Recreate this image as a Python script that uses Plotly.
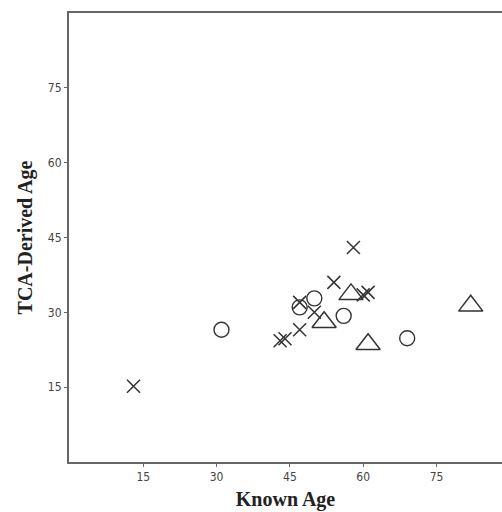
import plotly.graph_objects as go

# Data
circle_known = [31, 47, 50, 56, 69]
circle_tca = [26.5, 31.0, 32.8, 29.3, 24.8]

x_known = [13, 43, 44, 47, 47, 50, 54, 58, 60, 61]
x_tca = [15.2, 24.3, 24.7, 26.5, 32.0, 30.0, 36.0, 43.0, 33.5, 34.0]

tri_known = [52, 57.5, 61, 82]
tri_tca = [28.0, 33.6, 23.6, 31.3]

tick_vals = [15, 30, 45, 60, 75]
tick_text = ["15", "30", "45", "60", "75"]

mcol = "#333333"
fig = go.Figure()
fig.add_trace(go.Scatter(x=circle_known, y=circle_tca, mode="markers",
                         marker=dict(symbol="circle-open", size=15, color=mcol,
                                     line=dict(width=1.4, color=mcol))))
fig.add_trace(go.Scatter(x=x_known, y=x_tca, mode="markers",
                         marker=dict(symbol="x-thin-open", size=13, color=mcol,
                                     line=dict(width=1.5, color=mcol))))
fig.add_trace(go.Scatter(x=tri_known, y=tri_tca, mode="markers",
                         marker=dict(symbol="triangle-up-open", size=21, color=mcol,
                                     line=dict(width=1.5, color=mcol))))

axis_line = "#666666"
tfont = dict(family="DejaVu Sans Condensed, DejaVu Sans", size=12, color="#444444")
fig.update_layout(
    width=502, height=512,
    margin=dict(l=69, r=0, t=13, b=50),
    paper_bgcolor="white", plot_bgcolor="white",
    showlegend=False,
    xaxis=dict(range=[-0.2, 88.4], tickvals=tick_vals, ticktext=tick_text,
               showline=True, linecolor=axis_line, linewidth=2, mirror=True,
               showgrid=False, zeroline=False,
               ticks="outside", ticklen=3, tickcolor=axis_line, tickwidth=1,
               tickfont=tfont,
               title=dict(text="<b>Known Age</b>", standoff=9,
                          font=dict(family="Liberation Serif", size=20, color="#222222"))),
    yaxis=dict(range=[0, 90], tickvals=tick_vals, ticktext=tick_text,
               showline=True, linecolor=axis_line, linewidth=2, mirror=False,
               showgrid=False, zeroline=False,
               ticks="outside", ticklen=3, tickcolor=axis_line, tickwidth=1,
               tickfont=tfont,
               title=dict(text="<b>TCA-Derived Age</b>", standoff=10,
                          font=dict(family="Liberation Serif", size=20, color="#222222"))),
)

fig.write_html("out.html")
